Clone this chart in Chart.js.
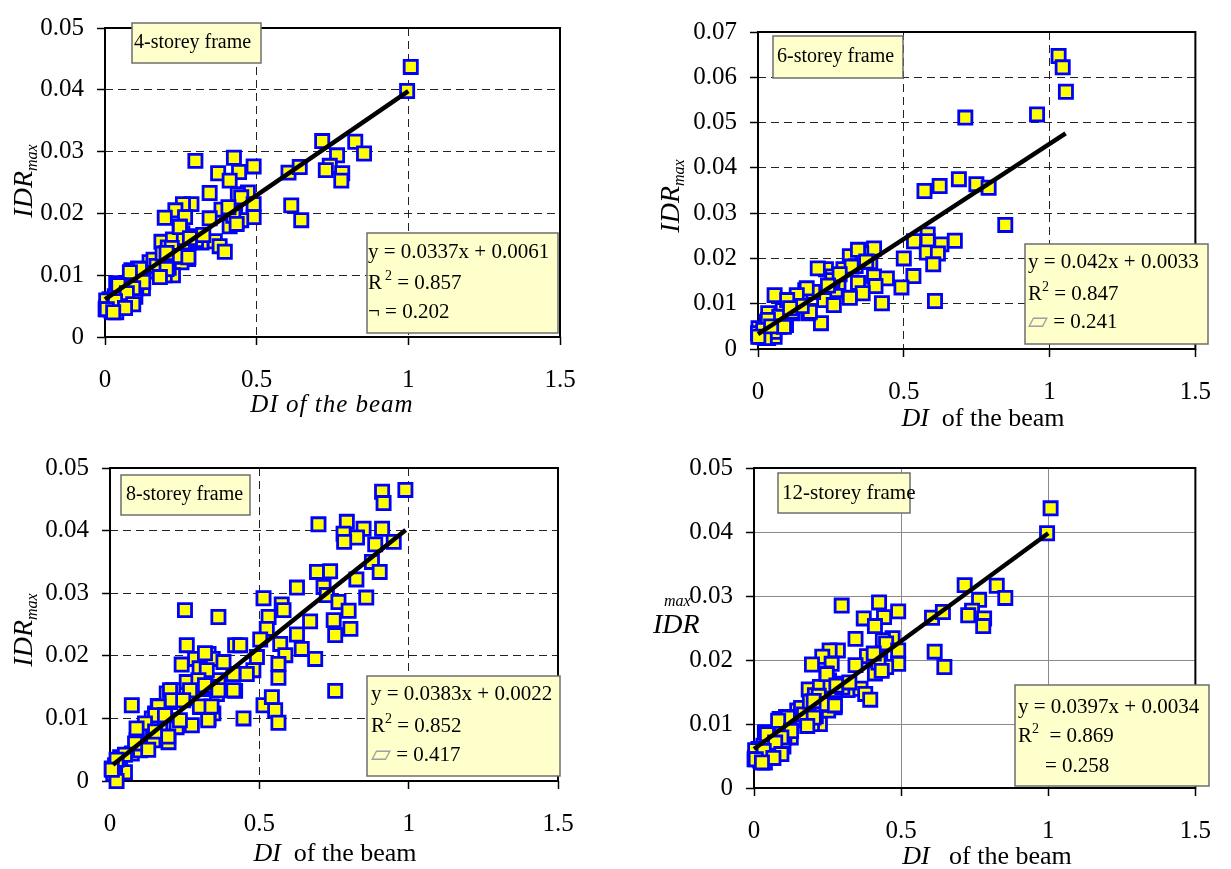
<!DOCTYPE html>
<html>
<head>
<meta charset="utf-8">
<script src="https://cdn.jsdelivr.net/npm/chart.js@4.4.0/dist/chart.umd.min.js"></script>
<style>
html, body { margin: 0; padding: 0; background: #fff; }
#wrap { position: relative; width: 1231px; height: 869px; }
canvas { position: absolute; left: 0; top: 0; pointer-events: none; }
</style>
</head>
<body>
<div id="wrap">
  <canvas id="c4" width="1231" height="869"></canvas>
  <canvas id="c6" width="1231" height="869"></canvas>
  <canvas id="c8" width="1231" height="869"></canvas>
  <canvas id="c12" width="1231" height="869"></canvas>
</div>
<script>
const SERIF = '"Liberation Serif", "Times New Roman", serif';

// ---- ticks ----
const xTicks = [0, 0.5, 1, 1.5];
const xTickLabels = ['0', '0.5', '1', '1.5'];
const yTicks05 = [0, 0.01, 0.02, 0.03, 0.04, 0.05];
const yTickLabels05 = ['0', '0.01', '0.02', '0.03', '0.04', '0.05'];
const yTicks07 = [0, 0.01, 0.02, 0.03, 0.04, 0.05, 0.06, 0.07];
const yTickLabels07 = ['0', '0.01', '0.02', '0.03', '0.04', '0.05', '0.06', '0.07'];

// ---- panel texts ----
const frameNames = ['4-storey frame', '6-storey frame', '8-storey frame', '12-storey frame'];
const fitEquations = ['y = 0.0337x + 0.0061', 'y = 0.042x + 0.0033', 'y = 0.0383x + 0.0022', 'y = 0.0397x + 0.0034'];
const fitR2 = ['0.857', '0.847', '0.852', '0.869'];
const fitRho = ['0.202', '0.241', '0.417', '0.258'];

// ---- 4-storey frame ----
const di4 = [1.008, 0.996, 0.716, 0.825, 0.854, 0.765, 0.741, 0.728, 0.782, 0.779, 0.605, 0.642, 0.614, 0.647,
  0.298, 0.425, 0.490, 0.373, 0.442, 0.411, 0.345, 0.471, 0.438, 0.449, 0.490, 0.490, 0.384, 0.345, 0.429, 0.434,
  0.411, 0.449, 0.285, 0.257, 0.232, 0.197, 0.264, 0.246, 0.255, 0.290, 0.318, 0.362, 0.378, 0.395, 0.186, 0.207,
  0.224, 0.241, 0.277, 0.274, 0.252, 0.224, 0.197, 0.191, 0.147, 0.136, 0.109, 0.087, 0.092, 0.125, 0.037, 0.065,
  0.092, 0.087, 0.103, 0.070, 0.032, 0.015, 0.004, 0.021, 0.037, 0.004, 0.002, 0.048, 0.16, 0.17, 0.21, 0.12,
  0.06, 0.05, 0.10, 0.19, 0.23, 0.30, 0.26,
  0.247, 0.280, 0.220, 0.203, 0.247, 0.275, 0.203, 0.181, 0.115, 0.082, 0.126, 0.093, 0.044, 0.072, 0.033, 0.093,
  0.066, 0.006, 0.027, 0.324, 0.423, 0.434, 0.407];
const idr4 = [0.0437, 0.0398, 0.0317, 0.0316, 0.0297, 0.0294, 0.0277, 0.0270, 0.0265, 0.0253, 0.0266, 0.0275, 0.0213, 0.0189,
  0.0285, 0.0290, 0.0276, 0.0265, 0.0267, 0.0253, 0.0233, 0.0234, 0.0231, 0.0226, 0.0215, 0.0194, 0.0206, 0.0192, 0.0202, 0.0187,
  0.0179, 0.0189, 0.0215, 0.0215, 0.0205, 0.0193, 0.0194, 0.0179, 0.0168, 0.0163, 0.0153, 0.0155, 0.0147, 0.0138, 0.0154, 0.0145,
  0.0158, 0.0140, 0.0153, 0.0126, 0.0121, 0.0100, 0.0100, 0.0121, 0.0121, 0.0106, 0.0111, 0.0108, 0.0095, 0.0079, 0.0087, 0.0074,
  0.0069, 0.0059, 0.0079, 0.0056, 0.0066, 0.0061, 0.0048, 0.0043, 0.0040, 0.0059, 0.0045, 0.0051, 0.0125, 0.0115, 0.0112, 0.0098,
  0.0062, 0.0078, 0.0065, 0.0135, 0.0130, 0.0157, 0.0160,
  0.0178, 0.0160, 0.0144, 0.0136, 0.0131, 0.0129, 0.0110, 0.0097, 0.0110, 0.0105, 0.0089, 0.0079, 0.0084, 0.0071, 0.0058, 0.0053,
  0.0047, 0.0045, 0.0040, 0.0165, 0.0196, 0.0183, 0.0210];
const trendX4 = [0, 1.0];
const trendY4 = [0.0061, 0.0398];

// ---- 6-storey frame ----
const di6 = [1.031, 1.045, 1.056, 0.957, 0.711, 0.571, 0.623, 0.689, 0.749, 0.791, 0.848, 0.582, 0.535, 0.582,
  0.629, 0.675, 0.579, 0.617, 0.601, 0.500, 0.533, 0.492, 0.607, 0.398, 0.354, 0.315, 0.385, 0.335, 0.293, 0.233,
  0.205, 0.398, 0.442, 0.343, 0.403, 0.425, 0.359, 0.315, 0.266, 0.276, 0.255, 0.227, 0.260, 0.216, 0.173, 0.162,
  0.189, 0.145, 0.129, 0.101, 0.057, 0.085, 0.118, 0.063, 0.035, 0.030, 0.096, 0.052, 0.019, 0.008, 0.002, 0.035,
  0.057, 0.000, 0.074, 0.343, 0.371, 0.321, 0.255, 0.178, 0.167, 0.133, 0.100, 0.117, 0.073, 0.034, 0.018, 0.056,
  0.089, 0.023, 0.001, 0.280, 0.240, 0.150, 0.110, 0.045];
const idr6 = [0.0647, 0.0622, 0.0568, 0.0518, 0.0511, 0.0349, 0.0360, 0.0375, 0.0364, 0.0356, 0.0274, 0.0253, 0.0238, 0.0238,
  0.0231, 0.0239, 0.0213, 0.0211, 0.0187, 0.0200, 0.0161, 0.0136, 0.0106, 0.0222, 0.0211, 0.0205, 0.0192, 0.0183, 0.0176, 0.0176,
  0.0178, 0.0160, 0.0156, 0.0146, 0.0139, 0.0101, 0.0123, 0.0113, 0.0130, 0.0146, 0.0160, 0.0108, 0.0097, 0.0057, 0.0079, 0.0130,
  0.0126, 0.0108, 0.0104, 0.0104, 0.0119, 0.0086, 0.0079, 0.0060, 0.0079, 0.0060, 0.0053, 0.0042, 0.0038, 0.0027, 0.0046, 0.0024,
  0.0027, 0.0035, 0.0049, 0.0219, 0.0193, 0.0182, 0.0152, 0.0082, 0.0134, 0.0119, 0.0108, 0.0082, 0.0071, 0.0064, 0.0042, 0.0038,
  0.0049, 0.0024, 0.0027, 0.0165, 0.0140, 0.0095, 0.0090, 0.0050];
const trendX6 = [0, 1.055];
const trendY6 = [0.0033, 0.0476];

// ---- 8-storey frame ----
const di8 = [0.989, 0.911, 0.916, 0.698, 0.793, 0.849, 0.911, 0.782, 0.827, 0.784, 0.888, 0.950, 0.877, 0.903,
  0.693, 0.737, 0.825, 0.858, 0.715, 0.726, 0.765, 0.799, 0.749, 0.805, 0.754, 0.626, 0.514, 0.575, 0.581, 0.531,
  0.670, 0.525, 0.626, 0.503, 0.570, 0.642, 0.687, 0.587, 0.564, 0.492, 0.480, 0.564, 0.754, 0.514, 0.542, 0.553,
  0.564, 0.447, 0.419, 0.436, 0.413, 0.419, 0.458, 0.251, 0.363, 0.257, 0.285, 0.330, 0.344, 0.240, 0.363, 0.335,
  0.302, 0.257, 0.212, 0.358, 0.268, 0.302, 0.346, 0.330, 0.274, 0.223, 0.201, 0.184, 0.151, 0.073, 0.196, 0.168,
  0.128, 0.101, 0.123, 0.089, 0.073, 0.034, 0.050, 0.017, 0.011, 0.022, 0.006, 0.101, 0.145, 0.14, 0.16, 0.19,
  0.30, 0.33, 0.38,
  0.318, 0.324, 0.296, 0.201, 0.268, 0.318, 0.363, 0.413, 0.207, 0.245, 0.301, 0.340, 0.162, 0.151, 0.184, 0.234,
  0.329, 0.117, 0.089, 0.151, 0.195, 0.128, 0.084, 0.050, 0.022, 0.006];
const idr8 = [0.0465, 0.0462, 0.0444, 0.0410, 0.0414, 0.0403, 0.0403, 0.0395, 0.0389, 0.0382, 0.0378, 0.0382, 0.0350, 0.0334,
  0.0334, 0.0335, 0.0322, 0.0293, 0.0310, 0.0297, 0.0286, 0.0272, 0.0257, 0.0243, 0.0233, 0.0309, 0.0292, 0.0282, 0.0273, 0.0262,
  0.0255, 0.0243, 0.0234, 0.0226, 0.0219, 0.0211, 0.0195, 0.0201, 0.0187, 0.0198, 0.0177, 0.0165, 0.0144, 0.0121, 0.0134, 0.0113,
  0.0093, 0.0100, 0.0217, 0.0217, 0.0171, 0.0144, 0.0171, 0.0273, 0.0262, 0.0217, 0.0195, 0.0203, 0.0195, 0.0186, 0.0161, 0.0147,
  0.0147, 0.0158, 0.0145, 0.0139, 0.0132, 0.0118, 0.0108, 0.0100, 0.0089, 0.0086, 0.0126, 0.0110, 0.0108, 0.0121, 0.0062, 0.0081,
  0.0076, 0.0081, 0.0052, 0.0065, 0.0044, 0.0038, 0.0014, 0.0025, 0.0012, 0.0000, 0.0020, 0.0049, 0.0065, 0.0100, 0.0120, 0.0140,
  0.0180, 0.0150, 0.0190,
  0.0204, 0.0177, 0.0161, 0.0145, 0.0145, 0.0153, 0.0145, 0.0145, 0.0129, 0.0129, 0.0119, 0.0119, 0.0119, 0.0105, 0.0105, 0.0097,
  0.0097, 0.0092, 0.0084, 0.0079, 0.0071, 0.0050, 0.0060, 0.0042, 0.0034, 0.0018];
const trendX8 = [0.01, 0.99];
const trendY8 = [0.0026, 0.0401];

// ---- 12-storey frame (the picture shows the same cloud as the 4-storey panel) ----
const di12 = di4.slice();
const idr12 = idr4.slice();
const trendX12 = [0, 1.0];
const trendY12 = [0.0061, 0.0398];

// ---- drawing helpers ----
function drawRuns(ctx, x, y, runs) {
  let cx = x;
  for (const r of runs) {
    ctx.font = r.f;
    ctx.fillStyle = r.c || '#000';
    cx += r.dx || 0;
    ctx.fillText(r.t, cx, y + (r.dy || 0));
    cx += ctx.measureText(r.t).width;
  }
  return cx - x;
}
function runsWidth(ctx, runs) {
  let w = 0;
  for (const r of runs) { ctx.font = r.f; w += (r.dx || 0) + ctx.measureText(r.t).width; }
  return w;
}
function noteBox(ctx, b) {
  ctx.fillStyle = '#ffffcc';
  ctx.fillRect(b[0], b[1], b[2] - b[0], b[3] - b[1]);
  ctx.strokeStyle = '#6e6e6e';
  ctx.lineWidth = 1.5;
  ctx.strokeRect(b[0], b[1], b[2] - b[0], b[3] - b[1]);
}

const f21 = '21px ' + SERIF;
const sup = '14px ' + SERIF;
const it = s => 'italic ' + s + 'px ' + SERIF;
const rhoGlyph = '26px "DejaVu Sans"';

const panels = [
  { id: 'c4', k: 0, xs: di4, ys: idr4, tx: trendX4, ty: trendY4, area: [105, 18, 560, 337],
    yt: yTicks05, yl: yTickLabels05, grid: 'dash',
    nameBox: [132, 23, 261, 63], namePos: [134, 48], nameFont: '20px ' + SERIF,
    eqBox: [367, 233, 558, 333], eqX: 368, eqBase: [258, 289, 318],
    r2Runs: [{ t: 'R', f: f21 }, { t: '2', f: sup, dy: -9, dx: 3 }, { t: ' = ' + fitR2[0], f: f21 }],
    rhoRuns: [{ t: '\u00ac', f: f21 }, { t: ' = ' + fitRho[0], f: f21 }],
    yTitle: { rot: true, x: 32, y: 181 },
    xTitle: { cx: 332, y: 412, spacing: '1px', runs: [{ t: 'DI', f: it(25) }, { t: ' of the beam', f: it(25) }] } },
  { id: 'c6', k: 1, xs: di6, ys: idr6, tx: trendX6, ty: trendY6, area: [758, 32, 1209, 349],
    yt: yTicks07, yl: yTickLabels07, grid: 'dash',
    nameBox: [773, 36, 903, 78], namePos: [777, 62], nameFont: '20px ' + SERIF,
    eqBox: [1025, 244, 1208, 344], eqX: 1028, eqBase: [268, 300, 328],
    r2Runs: [{ t: 'R', f: f21 }, { t: '2', f: sup, dy: -9 }, { t: ' = ' + fitR2[1], f: f21 }],
    rhoRuns: [{ t: '\u25b1', f: rhoGlyph, c: '#a0a0a0', dy: 1 }, { t: ' = ' + fitRho[1], f: f21 }],
    yTitle: { rot: true, x: 679, y: 196 },
    xTitle: { cx: 983, y: 426, runs: [{ t: 'DI', f: it(26) }, { t: '  of the beam', f: '26px ' + SERIF }] } },
  { id: 'c8', k: 2, xs: di8, ys: idr8, tx: trendX8, ty: trendY8, area: [110, 468, 558, 781],
    yt: yTicks05, yl: yTickLabels05, grid: 'dash',
    nameBox: [121, 475, 250, 515], namePos: [126, 500], nameFont: '20px ' + SERIF,
    eqBox: [367, 676, 560, 776], eqX: 371, eqBase: [700, 732, 761],
    r2Runs: [{ t: 'R', f: f21 }, { t: '2', f: sup, dy: -9 }, { t: ' = ' + fitR2[2], f: f21 }],
    rhoRuns: [{ t: '\u25b1', f: rhoGlyph, c: '#a0a0a0', dy: 1 }, { t: ' = ' + fitRho[2], f: f21 }],
    yTitle: { rot: true, x: 32, y: 630 },
    xTitle: { cx: 335, y: 861, runs: [{ t: 'DI', f: it(26) }, { t: '  of the beam', f: '26px ' + SERIF }] } },
  { id: 'c12', k: 3, xs: di12, ys: idr12, tx: trendX12, ty: trendY12, area: [754, 468, 1209, 788],
    yt: yTicks05, yl: yTickLabels05, grid: 'solid',
    nameBox: [778, 473, 910, 513], namePos: [782, 499], nameFont: '21px ' + SERIF,
    eqBox: [1015, 685, 1209, 786], eqX: 1018, eqBase: [713, 742, 772],
    r2Runs: [{ t: 'R', f: f21 }, { t: '2', f: sup, dy: -9 }, { t: '  = ' + fitR2[3], f: f21 }],
    rhoRuns: [{ t: '= ' + fitRho[3], f: f21, dx: 27 }],
    yTitle: { rot: false },
    xTitle: { cx: 987, y: 864, runs: [{ t: 'DI', f: it(26) }, { t: '   of the beam', f: '26px ' + SERIF }] } }
];

const YW = 80, XH = 60, W = 1231, H = 869;

function makeChart(p) {
  const [L, T, R, B] = p.area;
  const dashed = p.grid === 'dash';
  const gridOpts = {
    color: dashed ? '#222' : '#8a8a8a', lineWidth: 1,
    drawTicks: true, tickLength: 8, tickColor: '#000', tickWidth: 1.5, tickBorderDash: []
  };
  const borderOpts = { display: false, dash: dashed ? [8, 5] : [] };

  const deco = {
    id: 'deco',
    beforeDatasetsDraw(chart) {
      const a = chart.chartArea, ctx = chart.ctx;
      ctx.save();
      ctx.strokeStyle = '#000';
      ctx.lineWidth = 2;
      ctx.strokeRect(a.left, a.top, a.right - a.left, a.bottom - a.top);
      ctx.restore();
    },
    afterDraw(chart) {
      const ctx = chart.ctx;
      ctx.save();
      ctx.textBaseline = 'alphabetic';
      ctx.textAlign = 'left';
      // frame name
      noteBox(ctx, p.nameBox);
      ctx.fillStyle = '#000';
      ctx.font = p.nameFont;
      ctx.fillText(frameNames[p.k], p.namePos[0], p.namePos[1]);
      // regression box
      noteBox(ctx, p.eqBox);
      drawRuns(ctx, p.eqX, p.eqBase[0], [{ t: fitEquations[p.k], f: f21 }]);
      drawRuns(ctx, p.eqX, p.eqBase[1], p.r2Runs);
      drawRuns(ctx, p.eqX, p.eqBase[2], p.rhoRuns);
      // y title
      const yRuns = [{ t: 'IDR', f: it(28) }, { t: 'max', f: it(16), dy: 5 }];
      if (p.yTitle.rot) {
        ctx.translate(p.yTitle.x, p.yTitle.y);
        ctx.rotate(-Math.PI / 2);
        const w = runsWidth(ctx, yRuns);
        drawRuns(ctx, -w / 2, 0, yRuns);
        ctx.setTransform(1, 0, 0, 1, 0, 0);
      } else {
        drawRuns(ctx, 664, 606, [{ t: 'max', f: it(16) }]);
        drawRuns(ctx, 653, 633, [{ t: 'IDR', f: it(28) }]);
      }
      // x title
      if (p.xTitle.spacing && 'letterSpacing' in ctx) ctx.letterSpacing = p.xTitle.spacing;
      const w = runsWidth(ctx, p.xTitle.runs);
      drawRuns(ctx, p.xTitle.cx - w / 2, p.xTitle.y, p.xTitle.runs);
      ctx.restore();
    }
  };

  return new Chart(document.getElementById(p.id), {
    type: 'scatter',
    data: {
      datasets: [
        {
          type: 'line',
          data: p.tx.map((x, i) => ({ x: x, y: p.ty[i] })),
          borderColor: '#000', borderWidth: 4.5, pointRadius: 0,
          fill: false, order: 0, clip: false
        },
        {
          type: 'scatter',
          data: p.xs.map((x, i) => ({ x: x, y: p.ys[i] })),
          pointStyle: 'rect', pointRadius: 9.3,
          backgroundColor: '#ffff00', borderColor: '#0000ff', borderWidth: 2.8,
          order: 1, clip: false
        }
      ]
    },
    options: {
      responsive: false,
      animation: false,
      events: [],
      layout: { padding: { left: L - YW, top: T, right: W - R, bottom: H - B - XH } },
      plugins: { legend: { display: false }, tooltip: { enabled: false } },
      scales: {
        x: {
          type: 'linear', min: 0, max: 1.5,
          afterBuildTicks: s => { s.ticks = xTicks.map(v => ({ value: v })); },
          afterFit: s => { s.height = XH; },
          ticks: { autoSkip: false, maxRotation: 0, padding: 20, color: '#000',
            font: { family: SERIF, size: 25 }, callback: (v, i) => xTickLabels[i] },
          grid: gridOpts, border: borderOpts
        },
        y: {
          type: 'linear', min: 0, max: p.yt[p.yt.length - 1],
          afterBuildTicks: s => { s.ticks = p.yt.map(v => ({ value: v })); },
          afterFit: s => { s.width = YW; },
          ticks: { autoSkip: false, padding: 13, color: '#000',
            font: { family: SERIF, size: 25 }, callback: (v, i) => p.yl[i] },
          grid: gridOpts, border: borderOpts
        }
      }
    },
    plugins: [deco]
  });
}

panels.forEach(makeChart);
</script>
</body>
</html>
